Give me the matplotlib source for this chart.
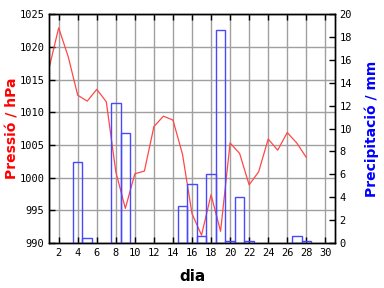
import matplotlib
matplotlib.use("Agg")
import matplotlib.pyplot as plt

# Pressió diària (hPa), dies 1..28
dies_pressio = list(range(1, 29))
pressio = [1016.8, 1022.9, 1018.5, 1012.6, 1011.7, 1013.5, 1011.6, 1000.9,
           995.3, 1000.6, 1001.0, 1007.8, 1009.4, 1008.8, 1003.6, 994.5,
           991.2, 997.4, 991.8, 1005.3, 1003.7, 998.9, 1000.9, 1005.9,
           1004.2, 1006.9, 1005.3, 1003.1]

# Precipitació (mm), només dies amb pluja
dies_pluja = [4, 5, 8, 9, 15, 16, 17, 18, 19, 20, 21, 22, 27, 28]
pluja = [7.1, 0.4, 12.2, 9.6, 3.2, 5.2, 0.6, 6.0, 18.6, 0.2, 4.0, 0.2, 0.6, 0.2]

x_ticks = list(range(2, 31, 2))
p_ticks = list(range(990, 1026, 5))
mm_ticks = list(range(0, 21, 2))

fig = plt.figure(figsize=(3.84, 2.88), dpi=100)
ax = fig.add_axes([0.128, 0.156, 0.744, 0.795])
ax2 = ax.twinx()

ax.plot(dies_pressio, pressio, color="#ff4848", lw=0.9)
ax2.bar(dies_pluja, pluja, width=1.0, fill=False, edgecolor="#4848ff", lw=1.0)

ax.set_xlim(1, 31)
ax.set_ylim(990, 1025)
ax2.set_ylim(0, 20)
ax.set_xticks(x_ticks)
ax.set_yticks(p_ticks)
ax2.set_yticks(mm_ticks)

ax.grid(True, color="#a0a0a0", lw=1.0)
ax.set_axisbelow(True)

mono = {"family": "DejaVu Sans Mono", "size": 7.5}
ax.set_xticklabels([str(v) for v in x_ticks], fontdict=mono)
ax.set_yticklabels([str(v) for v in p_ticks], fontdict=mono)
ax2.set_yticklabels([str(v) for v in mm_ticks], fontdict=mono)

ax.tick_params(direction="in", length=4, top=True, width=1)
ax2.tick_params(direction="in", length=4, width=1)

ax.set_xlabel("dia", fontsize=11, fontweight="bold", labelpad=8)
ax.set_ylabel("Pressió / hPa", fontsize=10, fontweight="bold", color="red", labelpad=0)
ax2.set_ylabel("Precipitació / mm", fontsize=10, fontweight="bold", color="blue", labelpad=9)

for sp in list(ax.spines.values()) + list(ax2.spines.values()):
    sp.set_linewidth(1.0)

fig.savefig("out.png", dpi=100)
